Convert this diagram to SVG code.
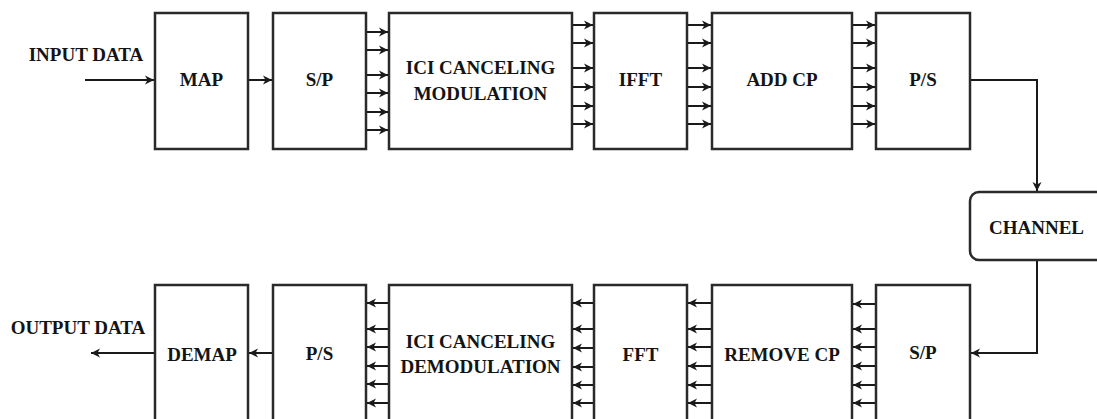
<svg xmlns="http://www.w3.org/2000/svg" width="1097" height="419" viewBox="0 0 1097 419">
<style>
.box{fill:#fff;stroke:#2a2a2a;stroke-width:2.5}
.t{font-family:"Liberation Serif","Times New Roman",serif;font-weight:bold;font-size:19px;fill:#141414;text-anchor:middle}
.c{fill:none;stroke:#1a1a1a;stroke-width:2;marker-end:url(#ah)}
</style>
<defs>
<marker id="ah" markerUnits="userSpaceOnUse" markerWidth="12" markerHeight="12" refX="9" refY="4.5" orient="auto" overflow="visible">
<path d="M0,0 L9,4.5 L0,9 L2.5,4.5 z" fill="#1a1a1a"/>
</marker>
</defs>
<rect width="1097" height="419" fill="#fff"/>
<g id="input-label"><text class="t" x="86" y="61">INPUT DATA</text></g>
<g id="output-label"><text class="t" x="78" y="334">OUTPUT DATA</text></g>
<g id="map"><rect class="box" x="155" y="13" width="93" height="136"/><text class="t" x="201.5" y="86">MAP</text></g>
<g id="sp-top"><rect class="box" x="273" y="13" width="93" height="136"/><text class="t" x="319.5" y="86">S/P</text></g>
<g id="ici-mod"><rect class="box" x="389" y="13" width="183" height="136"/><text class="t" x="480.5" y="74">ICI CANCELING</text><text class="t" x="480.5" y="100">MODULATION</text></g>
<g id="ifft"><rect class="box" x="594" y="13" width="93" height="136"/><text class="t" x="640.5" y="86">IFFT</text></g>
<g id="addcp"><rect class="box" x="712" y="13" width="140" height="136"/><text class="t" x="782" y="86">ADD CP</text></g>
<g id="ps-top"><rect class="box" x="876" y="13" width="94" height="136"/><text class="t" x="923" y="86">P/S</text></g>
<g id="channel"><rect class="box" x="970" y="192" width="140" height="68" rx="9"/><text class="t" x="1036.5" y="234">CHANNEL</text></g>
<g id="demap"><rect class="box" x="155" y="285" width="93" height="145"/><text class="t" x="202" y="361">DEMAP</text></g>
<g id="ps-bot"><rect class="box" x="273" y="285" width="93" height="145"/><text class="t" x="319.5" y="360">P/S</text></g>
<g id="ici-demod"><rect class="box" x="389" y="285" width="183" height="145"/><text class="t" x="480.5" y="348">ICI CANCELING</text><text class="t" x="480.5" y="373">DEMODULATION</text></g>
<g id="fft"><rect class="box" x="594" y="285" width="93" height="145"/><text class="t" x="640.5" y="361">FFT</text></g>
<g id="removecp"><rect class="box" x="712" y="285" width="140" height="145"/><text class="t" x="782" y="361">REMOVE CP</text></g>
<g id="sp-bot"><rect class="box" x="876" y="285" width="94" height="145"/><text class="t" x="923" y="359">S/P</text></g>
<g id="connectors">
<line class="c" x1="85" y1="80" x2="154" y2="80"/>
<line class="c" x1="249" y1="80" x2="272" y2="80"/>
<line class="c" x1="367" y1="32" x2="388" y2="32"/>
<line class="c" x1="367" y1="50" x2="388" y2="50"/>
<line class="c" x1="367" y1="75" x2="388" y2="75"/>
<line class="c" x1="367" y1="93" x2="388" y2="93"/>
<line class="c" x1="367" y1="112" x2="388" y2="112"/>
<line class="c" x1="367" y1="130" x2="388" y2="130"/>
<line class="c" x1="573" y1="25" x2="593" y2="25"/>
<line class="c" x1="573" y1="43" x2="593" y2="43"/>
<line class="c" x1="573" y1="68" x2="593" y2="68"/>
<line class="c" x1="573" y1="87" x2="593" y2="87"/>
<line class="c" x1="573" y1="106" x2="593" y2="106"/>
<line class="c" x1="573" y1="124" x2="593" y2="124"/>
<line class="c" x1="688" y1="25" x2="711" y2="25"/>
<line class="c" x1="688" y1="43" x2="711" y2="43"/>
<line class="c" x1="688" y1="68" x2="711" y2="68"/>
<line class="c" x1="688" y1="87" x2="711" y2="87"/>
<line class="c" x1="688" y1="106" x2="711" y2="106"/>
<line class="c" x1="688" y1="124" x2="711" y2="124"/>
<line class="c" x1="853" y1="25" x2="875" y2="25"/>
<line class="c" x1="853" y1="43" x2="875" y2="43"/>
<line class="c" x1="853" y1="68" x2="875" y2="68"/>
<line class="c" x1="853" y1="87" x2="875" y2="87"/>
<line class="c" x1="853" y1="106" x2="875" y2="106"/>
<line class="c" x1="853" y1="124" x2="875" y2="124"/>
<polyline class="c" points="971,80 1037,80 1037,191"/>
<polyline class="c" points="1037,261 1037,353 971,353"/>
<line class="c" x1="875" y1="304" x2="853" y2="304"/>
<line class="c" x1="875" y1="329" x2="853" y2="329"/>
<line class="c" x1="875" y1="347" x2="853" y2="347"/>
<line class="c" x1="875" y1="366" x2="853" y2="366"/>
<line class="c" x1="875" y1="385" x2="853" y2="385"/>
<line class="c" x1="875" y1="403" x2="853" y2="403"/>
<line class="c" x1="711" y1="303" x2="688" y2="303"/>
<line class="c" x1="711" y1="329" x2="688" y2="329"/>
<line class="c" x1="711" y1="347" x2="688" y2="347"/>
<line class="c" x1="711" y1="366" x2="688" y2="366"/>
<line class="c" x1="711" y1="385" x2="688" y2="385"/>
<line class="c" x1="711" y1="403" x2="688" y2="403"/>
<line class="c" x1="593" y1="303" x2="573" y2="303"/>
<line class="c" x1="593" y1="329" x2="573" y2="329"/>
<line class="c" x1="593" y1="348" x2="573" y2="348"/>
<line class="c" x1="593" y1="367" x2="573" y2="367"/>
<line class="c" x1="593" y1="385" x2="573" y2="385"/>
<line class="c" x1="593" y1="403" x2="573" y2="403"/>
<line class="c" x1="388" y1="303" x2="367" y2="303"/>
<line class="c" x1="388" y1="329" x2="367" y2="329"/>
<line class="c" x1="388" y1="347" x2="367" y2="347"/>
<line class="c" x1="388" y1="366" x2="367" y2="366"/>
<line class="c" x1="388" y1="384" x2="367" y2="384"/>
<line class="c" x1="388" y1="403" x2="367" y2="403"/>
<line class="c" x1="272" y1="353" x2="249" y2="353"/>
<line class="c" x1="154" y1="353" x2="91" y2="353"/>
</g>
</svg>
